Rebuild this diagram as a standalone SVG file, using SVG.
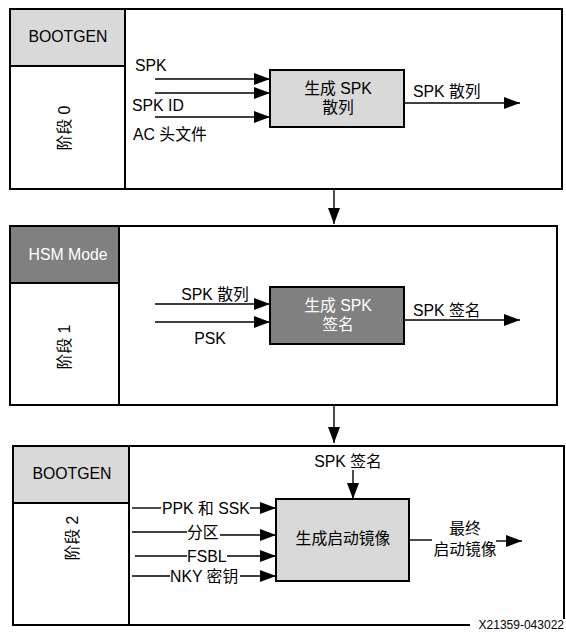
<svg xmlns="http://www.w3.org/2000/svg" width="566" height="632" viewBox="0 0 566 632">
<style>
text{font-family:"Liberation Sans","Noto Sans CJK SC",Arial,sans-serif;font-size:15.8px;fill:#000}
.c{text-anchor:middle}
.w{fill:#fff}
.frame{fill:#fff;stroke:#000;stroke-width:2}
.light{fill:#d9d9d9;stroke:#000;stroke-width:2}
.dark{fill:#808080;stroke:#000;stroke-width:2}
.ln{stroke:#000;stroke-width:1.4;fill:none}
</style>
<defs>
<marker id="ah" markerUnits="userSpaceOnUse" markerWidth="16" markerHeight="12" refX="16" refY="6" orient="auto">
<path d="M0,0 L16,6 L0,12 z" fill="#000"/>
</marker>
</defs>

<g id="stage0">
<rect class="frame" x="10" y="9" width="552" height="180"/>
<rect class="light" x="10" y="9" width="115" height="57"/>
<rect class="frame" x="10" y="66" width="115" height="123"/>
<text class="c" x="68" y="42">BOOTGEN</text>
<text class="c" transform="translate(70,128) rotate(-90)">阶段 0</text>
<text x="135" y="71">SPK</text>
<text x="132" y="111">SPK ID</text>
<text x="133" y="140">AC 头文件</text>
</g>
<g id="gen-spk-hash">
<rect class="light" x="270" y="70" width="134" height="57"/>
<text class="c" x="338" y="94">生成 SPK</text>
<text class="c" x="338" y="113">散列</text>
<text x="413" y="97">SPK 散列</text>
</g>

<g id="stage1">
<rect class="frame" x="10" y="226" width="547" height="179"/>
<rect class="dark" x="10" y="226" width="109" height="57"/>
<rect class="frame" x="10" y="283" width="109" height="122"/>
<text class="c w" x="68" y="260">HSM Mode</text>
<text class="c" transform="translate(70,347) rotate(-90)">阶段 1</text>
<text class="c" x="215" y="300">SPK 散列</text>
<text class="c" x="210" y="344">PSK</text>
</g>
<g id="gen-spk-sig">
<rect class="dark" x="270" y="287" width="134" height="57"/>
<text class="c w" x="338" y="311">生成 SPK</text>
<text class="c w" x="338" y="330">签名</text>
<text x="413" y="316">SPK 签名</text>
</g>

<g id="stage2">
<rect class="frame" x="13" y="446" width="551" height="179"/>
<rect class="light" x="13" y="446" width="116" height="57"/>
<rect class="frame" x="13" y="503" width="116" height="122"/>
<text class="c" x="72" y="479">BOOTGEN</text>
<text class="c" transform="translate(78,538) rotate(-90)">阶段 2</text>
<text class="c" x="348" y="467">SPK 签名</text>
</g>
<g id="gen-boot-image">
<rect class="light" x="276" y="499" width="133" height="82"/>
<text class="c" x="343" y="544">生成启动镜像</text>
<text class="c" x="465" y="534">最终</text>
<text class="c" x="465" y="555">启动镜像</text>
</g>

<g id="connectors">
<line class="ln" x1="155" y1="79" x2="270" y2="79" marker-end="url(#ah)"/>
<line class="ln" x1="155" y1="93" x2="270" y2="93" marker-end="url(#ah)"/>
<line class="ln" x1="155" y1="117" x2="270" y2="117" marker-end="url(#ah)"/>
<line class="ln" x1="404" y1="103" x2="520" y2="103" marker-end="url(#ah)"/>
<line class="ln" x1="334" y1="189" x2="334" y2="224" marker-end="url(#ah)"/>

<line class="ln" x1="155" y1="304" x2="270" y2="304" marker-end="url(#ah)"/>
<line class="ln" x1="155" y1="322" x2="270" y2="322" marker-end="url(#ah)"/>
<line class="ln" x1="404" y1="320" x2="520" y2="320" marker-end="url(#ah)"/>
<line class="ln" x1="334" y1="405" x2="334" y2="443" marker-end="url(#ah)"/>

<line class="ln" x1="353" y1="470" x2="353" y2="499" marker-end="url(#ah)"/>
<line class="ln" x1="132" y1="508" x2="161" y2="508"/>
<text x="162" y="514">PPK 和 SSK</text>
<line class="ln" x1="250" y1="508" x2="276" y2="508" marker-end="url(#ah)"/>
<line class="ln" x1="132" y1="532" x2="187" y2="532"/>
<text x="187" y="538">分区</text>
<line class="ln" x1="220" y1="535" x2="276" y2="535" marker-end="url(#ah)"/>
<line class="ln" x1="135" y1="556" x2="187" y2="556"/>
<text x="187" y="562">FSBL</text>
<line class="ln" x1="227" y1="556" x2="276" y2="556" marker-end="url(#ah)"/>
<line class="ln" x1="132" y1="576" x2="170" y2="576"/>
<text x="170" y="582">NKY 密钥</text>
<line class="ln" x1="240" y1="576" x2="276" y2="576" marker-end="url(#ah)"/>
<line class="ln" x1="409" y1="540" x2="432" y2="540"/>
<line class="ln" x1="496" y1="541" x2="522" y2="541" marker-end="url(#ah)"/>
</g>

<rect x="470" y="619" width="96" height="13" fill="#fff"/>
<text x="564" y="629" text-anchor="end" style="font-size:12px">X21359-043022</text>
</svg>
